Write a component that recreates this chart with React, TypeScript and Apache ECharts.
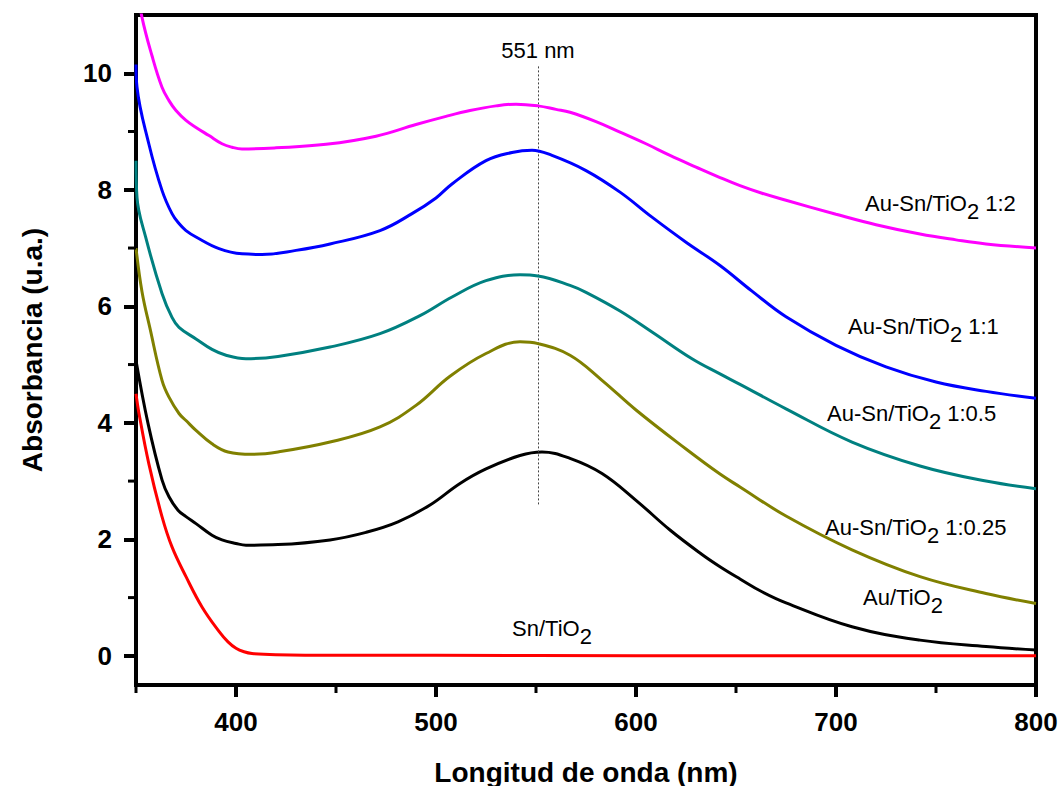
import React, { useEffect, useRef } from "react";
import * as echarts from "echarts";

// Wavelength (nm), absorbance (u.a.) pairs
const snTiO2: number[][] = [
  [350, 4.5], [351.5, 4.16], [356.4, 3.3], [363, 2.39], [368, 1.87], [375, 1.36],
  [383, 0.84], [391.5, 0.42], [396, 0.24], [400, 0.13], [404, 0.07], [408, 0.04],
  [420, 0.02], [450, 0.01], [500, 0.01], [600, 0.0], [700, 0.0], [800, 0.0],
];

const auTiO2: number[][] = [
  [350, 5.07], [356, 3.99], [363, 3.02], [366.5, 2.73], [371, 2.5], [375, 2.39],
  [380, 2.27], [388, 2.07], [393, 1.99], [400, 1.93], [405, 1.9], [421, 1.91],
  [447, 1.99], [465, 2.12], [481, 2.3], [497, 2.59], [512, 2.96], [525, 3.21],
  [542, 3.44], [553, 3.5], [567, 3.39], [583, 3.13], [600, 2.67], [617, 2.16],
  [633, 1.74], [642, 1.53], [652, 1.32], [663, 1.1], [675, 0.91], [708, 0.5],
  [742, 0.27], [775, 0.16], [800, 0.1],
];

const auSn025: number[][] = [
  [350, 7.0], [353, 6.25], [357, 5.62], [363, 4.73], [366.5, 4.44], [371.5, 4.16],
  [375, 4.04], [380, 3.87], [388, 3.64], [396, 3.5], [408, 3.46], [421, 3.5],
  [447, 3.67], [472, 3.93], [490, 4.3], [507, 4.8], [525, 5.19], [542, 5.39],
  [551, 5.36], [567, 5.16], [583, 4.73], [600, 4.22], [625, 3.55], [642, 3.12],
  [652, 2.9], [675, 2.4], [708, 1.82], [742, 1.36], [775, 1.07], [800, 0.9],
];

const auSn05: number[][] = [
  [350, 8.5], [350.5, 7.87], [354.8, 7.19], [363, 6.22], [368, 5.81], [371.5, 5.64],
  [380, 5.44], [388, 5.26], [395, 5.16], [405, 5.1], [421, 5.14], [447, 5.3],
  [472, 5.53], [492, 5.84], [508, 6.16], [525, 6.44], [542, 6.54], [551, 6.52],
  [567, 6.36], [575, 6.24], [592, 5.92], [608, 5.56], [628, 5.1], [642, 4.84],
  [652, 4.66], [675, 4.24], [708, 3.67], [742, 3.26], [775, 3.0], [800, 2.87],
];

const auSn1: number[][] = [
  [350, 10.15], [350.5, 9.76], [356.4, 8.79], [363, 7.99], [368, 7.59], [371.5, 7.42],
  [375, 7.3], [380, 7.19], [391.5, 6.99], [403, 6.9], [413, 6.89], [430, 6.96],
  [447, 7.07], [472, 7.3], [488, 7.59], [500, 7.86], [508, 8.1], [525, 8.5],
  [538, 8.64], [548, 8.68], [558, 8.59], [575, 8.33], [592, 7.96], [608, 7.53],
  [625, 7.1], [642, 6.7], [658, 6.26], [675, 5.82], [700, 5.33], [725, 4.96],
  [750, 4.7], [775, 4.54], [800, 4.42],
];

const auSn2: number[][] = [
  [350, 11.6], [353, 10.96], [358, 10.3], [363, 9.76], [366.5, 9.53], [370, 9.36],
  [375, 9.19], [380, 9.07], [386.5, 8.93], [393, 8.79], [398, 8.73], [403, 8.7],
  [420, 8.72], [445, 8.78], [470, 8.92], [490, 9.12], [505, 9.26], [517, 9.36],
  [530, 9.44], [540, 9.47], [551, 9.44], [560, 9.38], [567, 9.33], [580, 9.17],
  [592, 8.99], [605, 8.79], [617, 8.59], [630, 8.39], [642, 8.21], [652, 8.07],
  [663, 7.94], [675, 7.82], [700, 7.58], [720, 7.4], [742, 7.24], [760, 7.14],
  [775, 7.07], [800, 7.0],
];

const xMajorTicks = [400, 500, 600, 700, 800];
const xMinorTicks = [350, 450, 550, 650, 750];
const yMajorTicks = [0, 2, 4, 6, 8, 10];
const yMinorTicks = [1, 3, 5, 7, 9];
const X_MIN = 350;
const X_MAX = 800;
const Y_MIN = -0.5;
const Y_MAX = 11;
const peakNm = 551;
const peakLineRange = [2.6, 10.13];

const FONT = "'Liberation Sans', Arial, Helvetica, sans-serif";

const seriesDefs = [
  { name: "Sn/TiO2", data: snTiO2, color: "#FF0000" },
  { name: "Au/TiO2", data: auTiO2, color: "#000000" },
  { name: "Au-Sn/TiO2 1:0.25", data: auSn025, color: "#808000" },
  { name: "Au-Sn/TiO2 1:0.5", data: auSn05, color: "#008080" },
  { name: "Au-Sn/TiO2 1:1", data: auSn1, color: "#0000FF" },
  { name: "Au-Sn/TiO2 1:2", data: auSn2, color: "#FF00FF" },
];

const curveLabels = [
  { pre: "Au-Sn/TiO", post: " 1:2", x: 865, y: 192 },
  { pre: "Au-Sn/TiO", post: " 1:1", x: 848, y: 315 },
  { pre: "Au-Sn/TiO", post: " 1:0.5", x: 827, y: 402 },
  { pre: "Au-Sn/TiO", post: " 1:0.25", x: 825, y: 516 },
  { pre: "Au/TiO", post: "", x: 863, y: 586 },
  { pre: "Sn/TiO", post: "", x: 512, y: 617 },
];

export default function App() {
  const ref = useRef<HTMLDivElement>(null);

  useEffect(() => {
    document.body.style.margin = "0";
    if (!ref.current) return;
    const chart = echarts.init(ref.current, undefined, { renderer: "svg" });

    const axisColor = "#000";
    const series: any[] = seriesDefs.map((s, i) => ({
      type: "line",
      name: s.name,
      data: s.data,
      showSymbol: false,
      symbol: "none",
      smooth: 0.4,
      clip: true,
      lineStyle: { color: s.color, width: 3 },
      itemStyle: { color: s.color },
      z: 3 + i,
      ...(i === 1
        ? {
            markLine: {
              silent: true,
              symbol: "none",
              animation: false,
              lineStyle: { type: [2, 2], color: "#444", width: 1 },
              label: {
                show: true,
                position: "end",
                formatter: `${peakNm} nm`,
                fontSize: 22,
                color: "#000",
                fontFamily: FONT,
                distance: 4,
              },
              data: [
                [
                  { coord: [peakNm, peakLineRange[0]] },
                  { coord: [peakNm, peakLineRange[1]] },
                ],
              ],
            },
          }
        : {}),
    }));

    // minor ticks drawn through the axis scales
    series.push({
      type: "custom",
      name: "xMinor",
      silent: true,
      clip: false,
      z: 10,
      data: xMinorTicks.map((v) => [v, Y_MIN]),
      renderItem: (_p: any, api: any) => {
        const pt = api.coord([api.value(0), api.value(1)]);
        return {
          type: "line",
          shape: { x1: pt[0], y1: pt[1], x2: pt[0], y2: pt[1] + 8 },
          style: { stroke: "#000", lineWidth: 3 },
        };
      },
    });
    series.push({
      type: "custom",
      name: "yMinor",
      silent: true,
      clip: false,
      z: 10,
      data: yMinorTicks.map((v) => [X_MIN, v]),
      renderItem: (_p: any, api: any) => {
        const pt = api.coord([api.value(0), api.value(1)]);
        return {
          type: "line",
          shape: { x1: pt[0], y1: pt[1], x2: pt[0] - 8, y2: pt[1] },
          style: { stroke: "#000", lineWidth: 3 },
        };
      },
    });

    const option: any = {
      animation: false,
      backgroundColor: "#fff",
      textStyle: { fontFamily: FONT },
      grid: {
        left: 136,
        right: 26,
        top: 15,
        bottom: 101,
        show: true,
        borderColor: "#000",
        borderWidth: 4,
        containLabel: false,
        outerBoundsMode: "none",
      },
      xAxis: {
        type: "value",
        min: X_MIN,
        max: X_MAX,
        position: "bottom",
        axisLine: { show: true, onZero: false, lineStyle: { color: axisColor, width: 4 } },
        axisTick: {
          show: true,
          customValues: xMajorTicks,
          length: 12,
          lineStyle: { color: axisColor, width: 4 },
        },
        axisLabel: {
          customValues: xMajorTicks,
          fontSize: 26,
          fontWeight: "bold",
          color: "#000",
          margin: 24,
          fontFamily: FONT,
        },
        splitLine: { show: false },
        name: "Longitud de onda (nm)",
        nameLocation: "middle",
        nameGap: 73,
        nameTextStyle: { fontSize: 28, fontWeight: "bold", color: "#000", fontFamily: FONT },
      },
      yAxis: {
        type: "value",
        min: Y_MIN,
        max: Y_MAX,
        position: "left",
        axisLine: { show: true, onZero: false, lineStyle: { color: axisColor, width: 4 } },
        axisTick: {
          show: true,
          customValues: yMajorTicks,
          length: 12,
          lineStyle: { color: axisColor, width: 4 },
        },
        axisLabel: {
          customValues: yMajorTicks,
          fontSize: 26,
          fontWeight: "bold",
          color: "#000",
          margin: 24,
          fontFamily: FONT,
        },
        splitLine: { show: false },
        name: "Absorbancia (u.a.)",
        nameLocation: "middle",
        nameGap: 90,
        nameTextStyle: { fontSize: 28, fontWeight: "bold", color: "#000", fontFamily: FONT },
      },
      series,
      graphic: curveLabels.map((l) => ({
        type: "text",
        x: l.x,
        y: l.y,
        silent: true,
        z: 100,
        style: {
          text: `{a|${l.pre}}{s|2}{a|${l.post}}`,
          rich: {
            a: { fontSize: 22, fontFamily: FONT, fill: "#000", verticalAlign: "top", lineHeight: 22 },
            s: {
              fontSize: 22,
              fontFamily: FONT,
              fill: "#000",
              verticalAlign: "top",
              lineHeight: 22,
              padding: [8, 0, 0, 0],
            },
          },
          textAlign: "left",
          textVerticalAlign: "top",
        },
      })),
    };

    chart.setOption(option);
    return () => chart.dispose();
  }, []);

  return <div ref={ref} style={{ width: 1062, height: 786 }} />;
}
